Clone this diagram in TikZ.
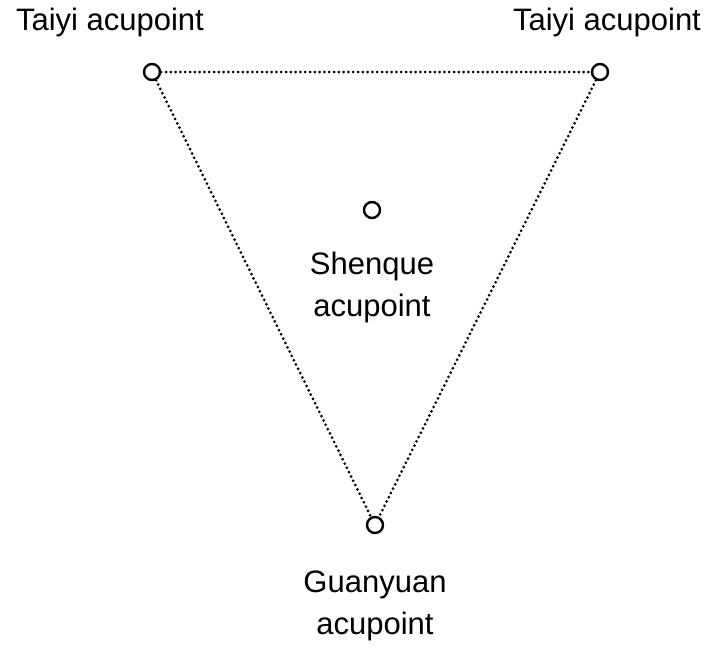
\documentclass[tikz,border=0pt]{standalone}
\usepackage{fontspec}
\setmainfont{Liberation Sans}
\begin{document}
\begin{tikzpicture}[x=1pt,y=-1pt,
  pt/.style={circle,draw,line width=2.4pt,minimum size=16pt,inner sep=0pt},
  lbl/.style={font=\fontsize{31}{42}\selectfont,align=center,inner sep=0pt},
  conn/.style={line width=3pt,dash pattern=on 0pt off 4.8pt,line cap=round}]
\useasboundingbox (0,0) rectangle (706,648);
\node[pt] (tl) at (152,72) {};
\node[pt] (tr) at (600,72) {};
\node[pt] (c) at (372,210) {};
\node[pt] (b) at (375,525) {};
\node[lbl] (ltl) at (110,22) {Taiyi acupoint};
\node[lbl] (ltr) at (607,22) {Taiyi acupoint};
\node[lbl] (lc) at (372,287) {Shenque\\acupoint};
\node[lbl] (lb) at (375,606) {Guanyuan\\acupoint};
\draw[conn] (tl) -- (tr);
\draw[conn] (tl) -- (b);
\draw[conn] (tr) -- (b);
\end{tikzpicture}
\end{document}
